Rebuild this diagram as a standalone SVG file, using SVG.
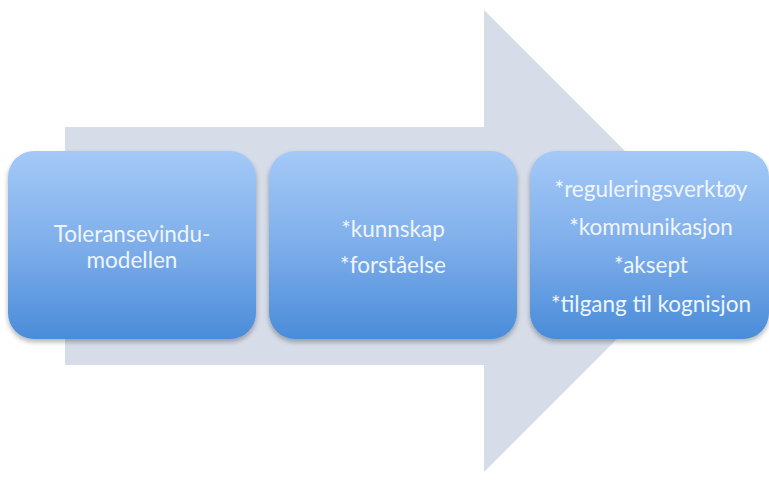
<svg xmlns="http://www.w3.org/2000/svg" width="769" height="482" viewBox="0 0 769 482">
<defs>
<linearGradient id="boxGrad" x1="0" y1="0" x2="0" y2="1">
<stop offset="0" stop-color="#a4c9f7"/>
<stop offset="0.5" stop-color="#7eaeea"/>
<stop offset="1" stop-color="#4a8cd9"/>
</linearGradient>
<filter id="shadow" x="-10%" y="-10%" width="120%" height="125%">
<feGaussianBlur in="SourceAlpha" stdDeviation="2.5"/>
<feOffset dx="0" dy="3" result="b"/>
<feComponentTransfer><feFuncA type="linear" slope="0.3"/></feComponentTransfer>
<feMerge><feMergeNode/><feMergeNode in="SourceGraphic"/></feMerge>
</filter>
<style>
.box{fill:url(#boxGrad);filter:url(#shadow)}
.t{font-family:"Lato","Open Sans","Liberation Sans",sans-serif;font-size:22.5px;fill:#f0f5fd;text-anchor:middle}
</style>
</defs>
<rect width="769" height="482" fill="#ffffff"/>
<g id="connectors">
<path d="M65,127 L484,127 L484,10 L715,241 L484,472 L484,365 L65,365 Z" fill="#d6dde8"/>
</g>
<g id="node1">
<rect class="box" x="8" y="151" width="248" height="188" rx="26"/>
<text class="t" x="132" y="242">Toleransevindu-</text>
<text class="t" x="132" y="268">modellen</text>
</g>
<g id="node2">
<rect class="box" x="269" y="151" width="248" height="188" rx="26"/>
<text class="t" x="393" y="237">*kunnskap</text>
<text class="t" x="393" y="273">*forståelse</text>
</g>
<g id="node3">
<rect class="box" x="530" y="151" width="239" height="188" rx="26"/>
<text class="t" x="651" y="197">*reguleringsverktøy</text>
<text class="t" x="651" y="235">*kommunikasjon</text>
<text class="t" x="651" y="273">*aksept</text>
<text class="t" x="651" y="312">*tilgang til kognisjon</text>
</g>
</svg>
